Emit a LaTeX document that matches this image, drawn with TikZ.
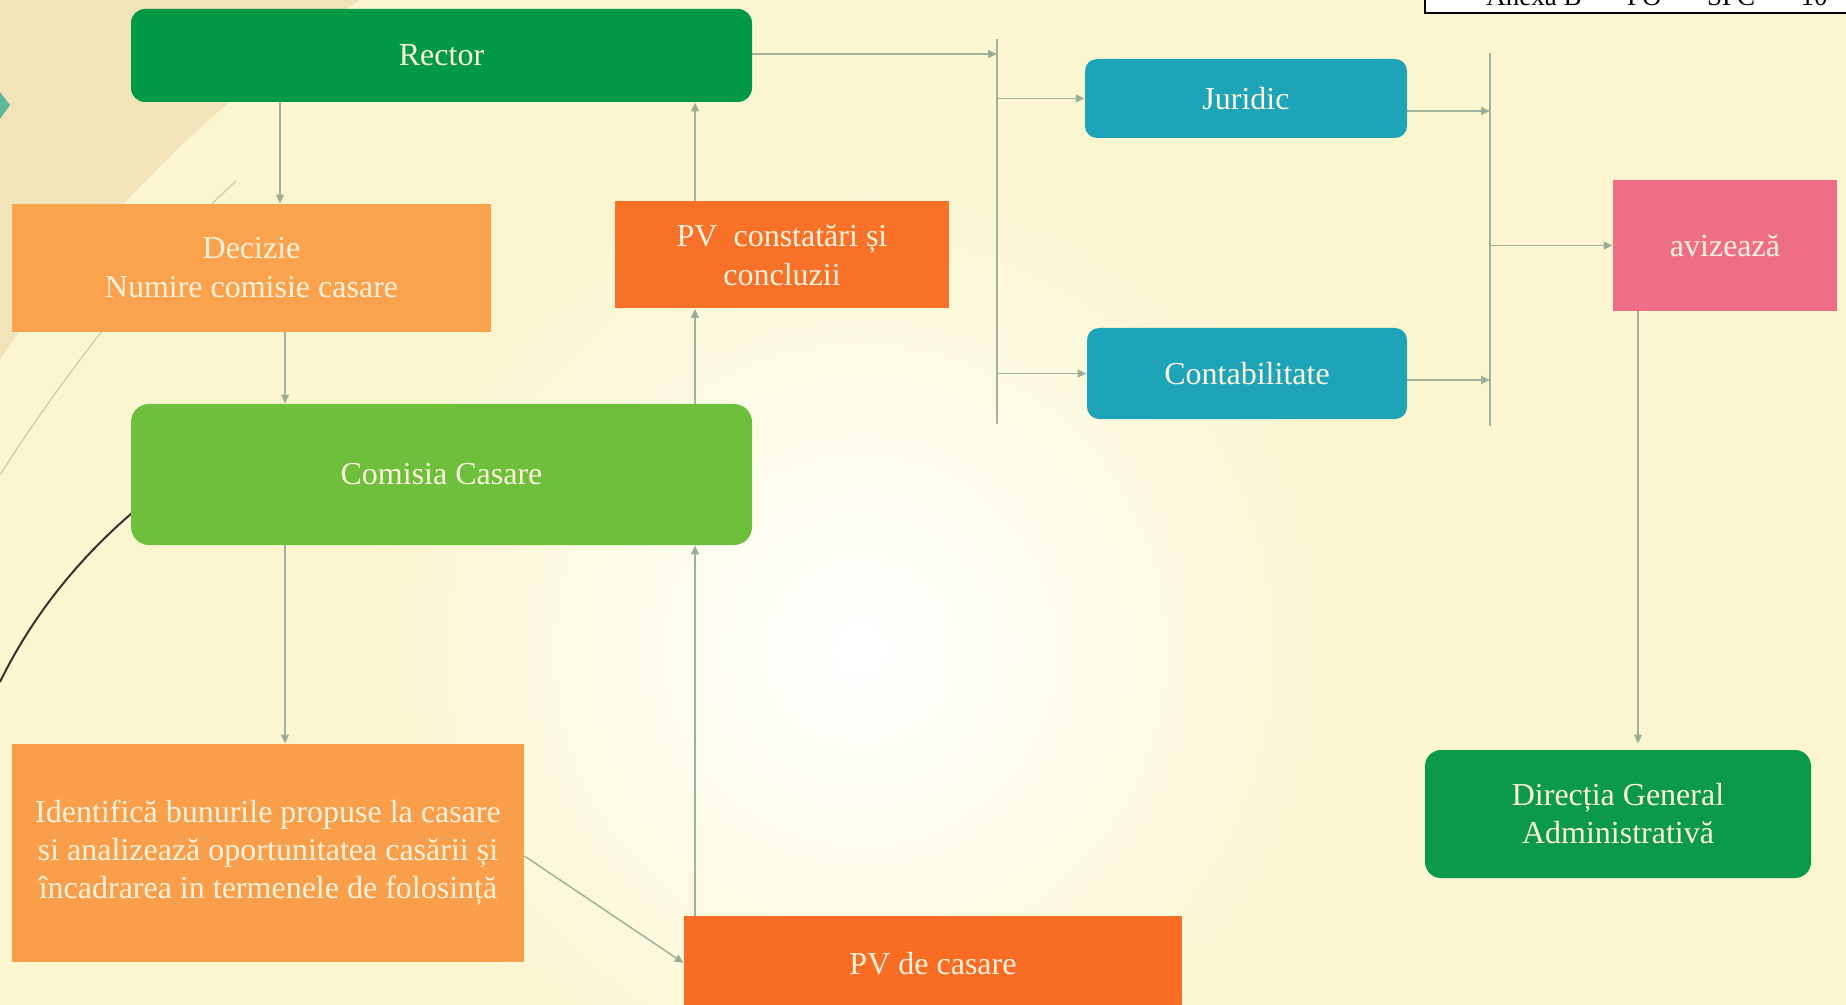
\documentclass[tikz,border=0pt]{standalone}
\usepackage{fontspec}
\setmainfont{Liberation Serif}
\usetikzlibrary{arrows.meta,calc}
\definecolor{bg}{HTML}{FBF6CF}
\definecolor{beigec}{HTML}{F1DFB4}
\definecolor{cRector}{HTML}{009A47}
\definecolor{cDecizie}{HTML}{FBA24F}
\definecolor{cPVc}{HTML}{F87128}
\definecolor{cComisia}{HTML}{6DBF3C}
\definecolor{cIdent}{HTML}{F99E4A}
\definecolor{cPVcas}{HTML}{F86C24}
\definecolor{cTeal}{HTML}{1EA4B8}
\definecolor{cAviz}{HTML}{EF6E87}
\definecolor{cDir}{HTML}{0B9A4A}
\definecolor{cn}{HTML}{9DB39B}
\definecolor{cnh}{HTML}{8FA88E}
\definecolor{txt}{HTML}{FDF3DC}
\definecolor{faint}{HTML}{CFCBAA}
\definecolor{tealmark}{HTML}{5DB89B}
\begin{document}
\begin{tikzpicture}[x=0.5pt,y=-0.5pt,
  box/.style={inner sep=0pt, align=center, text=txt, font=\fontsize{16}{19.5}\selectfont},
  conn/.style={draw=cn, line width=0.75pt, -{Triangle[length=4.5pt,width=4pt,fill=cnh]}},
  ln/.style={draw=cn, line width=0.75pt}]
\useasboundingbox (0,0) rectangle (1846,1005);
\clip (0,0) rectangle (1846,1005);
% background
\fill[bg] (0,0) rectangle (1846,1005);
\shade[inner color=white, outer color=bg] (860,650) circle (500);
\fill[beigec, opacity=0.8] (0,0) -- (360,0) .. controls (230,90) and (90,220) .. (0,360) -- cycle;
\fill[tealmark] (0,92) -- (10,105) -- (0,119) -- cycle;
\draw[faint, line width=0.6pt] (236,181) .. controls (160,250) and (60,380) .. (0,475);
\draw[black!80, line width=1pt] (132,513) .. controls (95,545) and (40,600) .. (0,682);
% header box
\draw[black, line width=1pt, fill=white] (1425,-40) rectangle (1900,13);
\node[anchor=base west, inner sep=0pt, font=\fontsize{13.5}{16}\selectfont] (anexa) at (1486,6) {Anexa B\hspace{8pt}–\hspace{8pt}PO\hspace{8pt}–\hspace{8pt}SPC\hspace{8pt}–\hspace{8pt}10};
% nodes
\node[box, fill=cRector, rounded corners=7pt, minimum width=310.5pt, minimum height=46.5pt] (rector) at (441.5,55.5) {Rector};
\node[box, fill=cDecizie, minimum width=239.5pt, minimum height=64pt] (decizie) at (251.5,268) {Decizie\\Numire comisie casare};
\node[box, fill=cPVc, minimum width=167pt, minimum height=53.5pt] (pvc) at (782,255) {PV\ \ constatări și\\concluzii};
\node[box, fill=cComisia, rounded corners=9pt, minimum width=310.5pt, minimum height=70.5pt] (comisia) at (441.5,474.5) {Comisia Casare};
\node[box, fill=cIdent, minimum width=256pt, minimum height=109pt, font=\fontsize{16}{19}\selectfont] (ident) at (268,853) {Identifică bunurile propuse la casare\\si analizează oportunitatea casării și\\încadrarea in termenele de folosință};
\node[box, fill=cPVcas, minimum width=249pt, minimum height=48pt] (pvcas) at (933,964) {PV de casare};
\node[box, fill=cTeal, rounded corners=6pt, minimum width=161pt, minimum height=39.5pt] (juridic) at (1246,98.5) {Juridic};
\node[box, fill=cTeal, rounded corners=6pt, minimum width=160pt, minimum height=45.5pt] (contab) at (1247,373.5) {Contabilitate};
\node[box, fill=cAviz, minimum width=112pt, minimum height=65.5pt] (aviz) at (1725,245.5) {avizează};
\node[box, fill=cDir, rounded corners=8pt, minimum width=193pt, minimum height=64pt, font=\fontsize{16}{19}\selectfont] (direc) at (1618,814) {Direcția General\\Administrativă};
% helper coordinates
\coordinate (xa) at (280,0);
\coordinate (xb) at (285,0);
\coordinate (xc) at (695,0);
\coordinate (xd) at (1638,0);
\coordinate (v1t) at (997,39);
\coordinate (v1b) at (997,424);
\coordinate (v2t) at (1490,53);
\coordinate (v2b) at (1490,426);
% connectors
\draw[conn] (rector.south -| xa) -- (decizie.north -| xa);
\draw[conn] (decizie.south -| xb) -- (comisia.north -| xb);
\draw[conn] (comisia.south -| xb) -- (ident.north -| xb);
\draw[conn] ($(ident.east)+(0,3)$) -- ($(pvcas.west)+(0,-1)$);
\draw[conn] (pvcas.north -| xc) -- (comisia.south -| xc);
\draw[conn] (comisia.north -| xc) -- (pvc.south -| xc);
\draw[conn] (pvc.north -| xc) -- (rector.south -| xc);
\draw[ln] (v1t) -- (v1b);
\draw[conn] ($(rector.east)+(0,-1.5)$) -- ($(rector.east -| v1t)+(0,-1.5)$);
\draw[conn] (juridic.west -| v1t) -- (juridic.west);
\draw[conn] (contab.west -| v1t) -- (contab.west);
\draw[ln] (v2t) -- (v2b);
\draw[conn] ($(juridic.east)+(0,12.5)$) -- ($(juridic.east -| v2t)+(0,12.5)$);
\draw[conn] ($(contab.east)+(0,6.5)$) -- ($(contab.east -| v2t)+(0,6.5)$);
\draw[conn] (aviz.west -| v2t) -- (aviz.west);
\draw[conn, shorten >=3pt] (aviz.south -| xd) -- (direc.north -| xd);
\end{tikzpicture}
\end{document}
